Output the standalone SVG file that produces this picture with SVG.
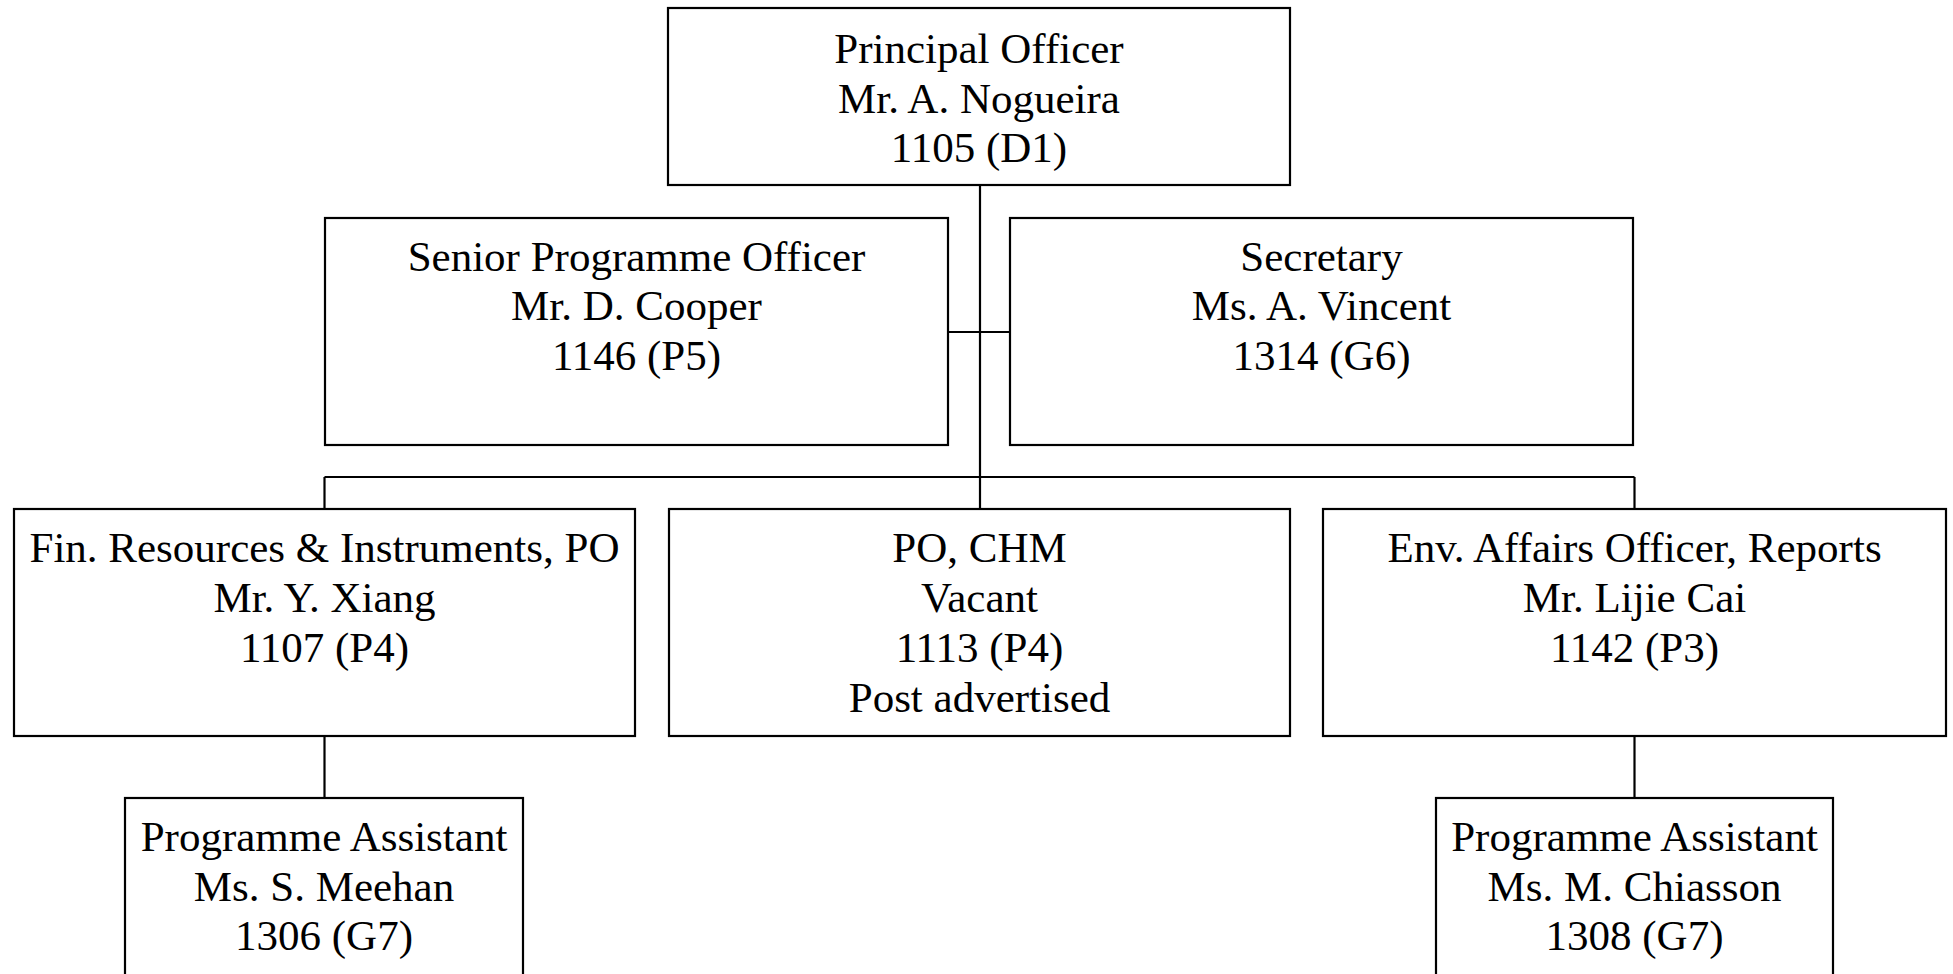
<svg xmlns="http://www.w3.org/2000/svg" width="1953" height="974" viewBox="0 0 1953 974">
<style>
rect.box{fill:#fff;stroke:#000;stroke-width:2.2}
text{font-family:"Liberation Serif","Times New Roman",serif;font-size:43px;fill:#000;text-anchor:middle}
.conn line{stroke:#000;stroke-width:2.2}
</style>
<rect width="1953" height="974" fill="#fff"/>
<g class="conn" id="connectors">
<line x1="980" y1="185" x2="980" y2="509"/>
<line x1="948" y1="332" x2="1010" y2="332"/>
<line x1="324.5" y1="477" x2="1634.5" y2="477"/>
<line x1="324.5" y1="477" x2="324.5" y2="509"/>
<line x1="1634.5" y1="477" x2="1634.5" y2="509"/>
<line x1="324.5" y1="736" x2="324.5" y2="798"/>
<line x1="1634.5" y1="736" x2="1634.5" y2="798"/>
</g>
<g id="principal">
<rect class="box" x="668" y="8" width="622" height="177"/>
<text x="979" y="63">Principal Officer</text>
<text x="979" y="112.5">Mr. A. Nogueira</text>
<text x="979" y="162">1105 (D1)</text>
</g>
<g id="senior">
<rect class="box" x="325" y="218" width="623" height="227"/>
<text x="636.5" y="270.5">Senior Programme Officer</text>
<text x="636.5" y="320">Mr. D. Cooper</text>
<text x="636.5" y="369.5">1146 (P5)</text>
</g>
<g id="secretary">
<rect class="box" x="1010" y="218" width="623" height="227"/>
<text x="1321.5" y="270.5">Secretary</text>
<text x="1321.5" y="320">Ms. A. Vincent</text>
<text x="1321.5" y="369.5">1314 (G6)</text>
</g>
<g id="finres">
<rect class="box" x="14" y="509" width="621" height="227"/>
<text x="324.5" y="561.5">Fin. Resources &amp; Instruments, PO</text>
<text x="324.5" y="611.5">Mr. Y. Xiang</text>
<text x="324.5" y="661.5">1107 (P4)</text>
</g>
<g id="pochm">
<rect class="box" x="669" y="509" width="621" height="227"/>
<text x="979.5" y="561.5">PO, CHM</text>
<text x="979.5" y="611.5">Vacant</text>
<text x="979.5" y="661.5">1113 (P4)</text>
<text x="979.5" y="711.5">Post advertised</text>
</g>
<g id="envaffairs">
<rect class="box" x="1323" y="509" width="623" height="227"/>
<text x="1634.5" y="561.5">Env. Affairs Officer, Reports</text>
<text x="1634.5" y="611.5">Mr. Lijie Cai</text>
<text x="1634.5" y="661.5">1142 (P3)</text>
</g>
<g id="assistant1">
<rect class="box" x="125" y="798" width="398" height="190"/>
<text x="324" y="851">Programme Assistant</text>
<text x="324" y="900.5">Ms. S. Meehan</text>
<text x="324" y="950">1306 (G7)</text>
</g>
<g id="assistant2">
<rect class="box" x="1436" y="798" width="397" height="190"/>
<text x="1634.5" y="851">Programme Assistant</text>
<text x="1634.5" y="900.5">Ms. M. Chiasson</text>
<text x="1634.5" y="950">1308 (G7)</text>
</g>
</svg>
